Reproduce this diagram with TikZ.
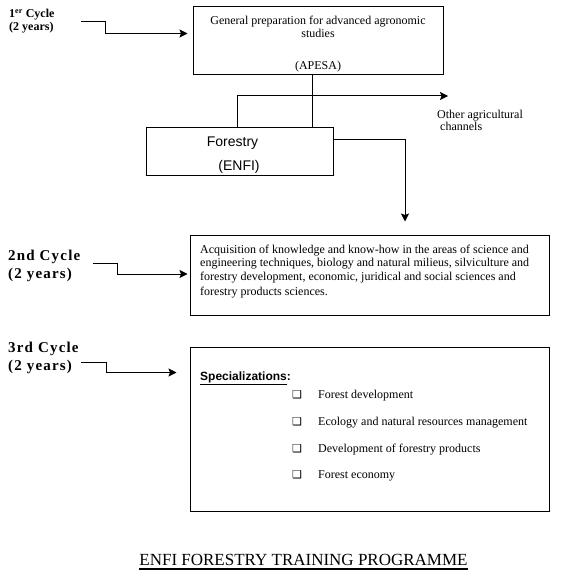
\documentclass[tikz,border=0pt]{standalone}
\usepackage{fontspec}
\setmainfont{Liberation Serif}
\setsansfont{Liberation Sans}
\newfontfamily\dingfont{DejaVu Sans}
\newfontfamily\cyclefont[LetterSpace=8]{Liberation Serif}
\usetikzlibrary{arrows.meta, positioning}
\tikzstyle{cyclebox} = [rectangle, draw=black, line width=1pt, inner sep=0pt]
\tikzstyle{cyclelabel} = [anchor=north west, inner sep=0pt, align=left]
\tikzstyle{boxtext} = [inner sep=0pt, font=\fontsize{12}{13}\selectfont]
\tikzstyle{bullet} = [anchor=base west, inner sep=0pt, font=\dingfont\fontsize{11}{11}\selectfont]
\tikzstyle{arrow} = [line width=1pt, -{Stealth[length=8pt,width=8pt,inset=1.5pt]}]
\tikzstyle{link} = [line width=1pt]

\begin{document}
\begin{tikzpicture}[x=1pt, y=-1pt]
\useasboundingbox (0,0) rectangle (560,588);

% boxes
\node (apesa) [cyclebox, minimum width=250pt, minimum height=68pt] at (318,41) {};
\node (forestry) [cyclebox, minimum width=187pt, minimum height=47pt] at (239.5,151.5) {};
\node (acq) [cyclebox, minimum width=359pt, minimum height=80pt] at (369.5,275) {};
\node (spec) [cyclebox, minimum width=359pt, minimum height=164pt] at (369.5,429) {};

% texts in the boxes
\node (apesatxt) [boxtext, anchor=north, align=center] at (318,15.8) {General preparation for advanced agronomic\\ studies};
\node (apesaabbr) [boxtext, anchor=base] at (318,70) {(APESA)};
\node (forestname) [inner sep=0pt, anchor=base, font=\sffamily\fontsize{14}{16}\selectfont] at (232.5,147) {Forestry};
\node (forestabbr) [inner sep=0pt, anchor=base, font=\sffamily\fontsize{14}{16}\selectfont] at (239,170) {(ENFI)};
\node (acqtxt) [boxtext, anchor=north west, align=left, font=\fontsize{12}{13.5}\selectfont] at (200,244.5)
  {Acquisition of knowledge and know-how in the areas of science and\\
   engineering techniques, biology and natural milieus, silviculture and\\
   forestry development, economic, juridical and social sciences and\\[1.5pt]
   forestry products sciences.};
\node (spectitle) [inner sep=0pt, anchor=base west, font=\sffamily\bfseries\fontsize{12}{14}\selectfont] at (200,380) {\underline{Specializations}:};

% specializations
\node (sq1) [bullet] at (292,398) {❑};
\node (sq2) [bullet] at (292,425) {❑};
\node (sq3) [bullet] at (292,452) {❑};
\node (sq4) [bullet] at (292,478) {❑};
\node (item1) [boxtext, anchor=base west] at (318,398) {Forest development};
\node (item2) [boxtext, anchor=base west] at (318,425) {Ecology and natural resources management};
\node (item3) [boxtext, anchor=base west] at (318,452) {Development of forestry products};
\node (item4) [boxtext, anchor=base west] at (318,478) {Forest economy};

% cycle labels
\node (cycle1) [cyclelabel, font=\bfseries\fontsize{12}{13}\selectfont] at (9,9) {1\textsuperscript{er} Cycle\\(2 years)};
\node (cycle2) [cyclelabel, font=\cyclefont\bfseries\fontsize{15}{18}\selectfont] at (8,250) {2nd Cycle\\(2 years)};
\node (cycle3) [cyclelabel, font=\cyclefont\bfseries\fontsize{15}{18}\selectfont] at (8,342) {3rd Cycle\\(2 years)};
\node (otherlbl) [boxtext, anchor=north west, align=left, font=\fontsize{12}{12}\selectfont] at (437,110) {Other agricultural\\\hspace*{3pt}channels};

% title
\node (title) [inner sep=0pt, anchor=base, font=\fontsize{17}{18}\selectfont] at (303.5,565) {ENFI FORESTRY TRAINING PROGRAMME};
\draw [line width=2pt] ([yshift=-3.5pt]title.base west) -- ([yshift=-3.5pt]title.base east);

% connectors
\coordinate (cyc1) at (81,22);
\coordinate (cyc2) at (93,263);
\coordinate (cyc3) at (81,362);
\coordinate (toother) at (448,96);

\draw [arrow, shorten >=5pt] (cyc1) -- ++(24,0) |- ([yshift=-27pt]apesa.north west);
\draw [link] ([xshift=-6pt]apesa.south) -- ([xshift=-6pt]apesa.south |- forestry.north);
\draw [arrow] ([xshift=-2.5pt]forestry.north) |- (toother);
\draw [arrow, shorten >=13pt] ([yshift=11.5pt]forestry.east) -| ([xshift=35.5pt]acq.north);
\draw [arrow, shorten >=2pt] (cyc2) -- ++(24,0) |- ([yshift=1pt]acq.west);
\draw [arrow, shorten >=13pt] (cyc3) -- ++(25,0) |- ([yshift=-26pt]spec.north west);

\end{tikzpicture}
\end{document}
